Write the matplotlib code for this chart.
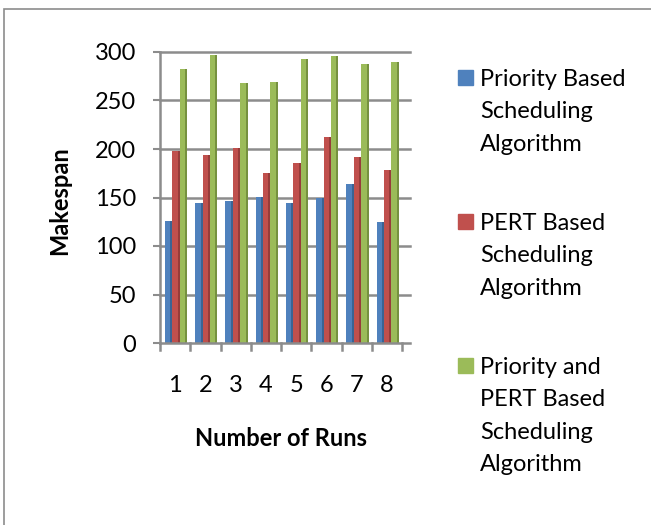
import matplotlib.pyplot as plt
import numpy as np
from matplotlib.patches import Rectangle

runs = ["1", "2", "3", "4", "5", "6", "7", "8"]
priority = [126, 144, 146, 151, 144, 149, 164, 125]
pert = [198, 194, 201, 175, 186, 212, 192, 178]
both = [282, 297, 268, 269, 293, 296, 288, 290]
series_names = [["Priority Based", "Scheduling", "Algorithm"],
                ["PERT Based", "Scheduling", "Algorithm"],
                ["Priority and", "PERT Based", "Scheduling", "Algorithm"]]
colors = ["#4F81BD", "#C0504D", "#9BBB59"]
dark = ["#3A6494", "#963C3A", "#76913F"]

plt.rcParams['font.family'] = ['Lato', 'DejaVu Sans']
FS = 17
grey = "#8C8C8C"

W, H = 651, 525
fig = plt.figure(figsize=(W / 100, H / 100), dpi=100)
ax = fig.add_axes([160 / W, 1 - 343 / H, 242 / W, 291 / H])

# outer chart border
fig.patches.append(Rectangle((4 / W, -0.05), 1.0, 1 - 9 / H + 0.05,
                             transform=fig.transFigure, fill=False,
                             edgecolor=grey, linewidth=1.2))

x = np.arange(len(runs))
bw = 0.245
for k, vals in enumerate([priority, pert, both]):
    pos = x + (k - 1) * bw + 0.03
    ax.bar(pos, vals, width=bw, color=colors[k], zorder=3)
    # darker side face for a bit of depth
    ax.bar(pos + bw * 0.5, vals, width=-bw * 0.28, color=dark[k], zorder=3, align="edge")

ax.set_xlim(-0.5, 7.5)
ax.set_ylim(0, 300)
ax.set_yticks(range(0, 301, 50))
for yv in range(50, 301, 50):
    ax.plot([-0.5, 7.75], [yv, yv], color=grey, linewidth=1.8, zorder=0, clip_on=False)
ax.plot([-0.5, 7.75], [0, 0], color=grey, linewidth=1.8, zorder=4, clip_on=False)
ax.set_xticks(x)
ax.set_xticklabels(runs)
ax.tick_params(axis="x", length=0, pad=23, labelsize=FS)
ax.tick_params(axis="y", length=5, color=grey, width=1.5, labelsize=FS, pad=12)
for xb in np.arange(-0.5, 8.0, 1.0):
    ax.plot([xb, xb], [0, -7], color=grey, linewidth=1.8, clip_on=False)
for s in ["top", "right", "bottom"]:
    ax.spines[s].set_visible(False)
ax.spines["left"].set_color(grey)
ax.spines["left"].set_linewidth(1.8)

fig.text(60 / W, 1 - 201 / H, "Makespan", fontsize=FS, fontweight="bold",
         rotation=90, ha="center", va="center")
fig.text(281 / W, 1 - 438 / H, "Number of Runs", fontsize=FS, fontweight="bold",
         ha="center", va="center")

# legend, drawn by hand so the box sits on the first text line
first_base = [86, 230, 374]
step = 32.3
for k, lines in enumerate(series_names):
    yb = first_base[k]
    fig.patches.append(Rectangle((458 / W, 1 - (yb - 1) / H), 15 / W, 15 / H,
                                 transform=fig.transFigure, color=colors[k]))
    for i, line in enumerate(lines):
        fig.text(480 / W, 1 - (yb + i * step) / H, line, fontsize=FS,
                 ha="left", va="baseline")

fig.savefig("out.png", dpi=100)
